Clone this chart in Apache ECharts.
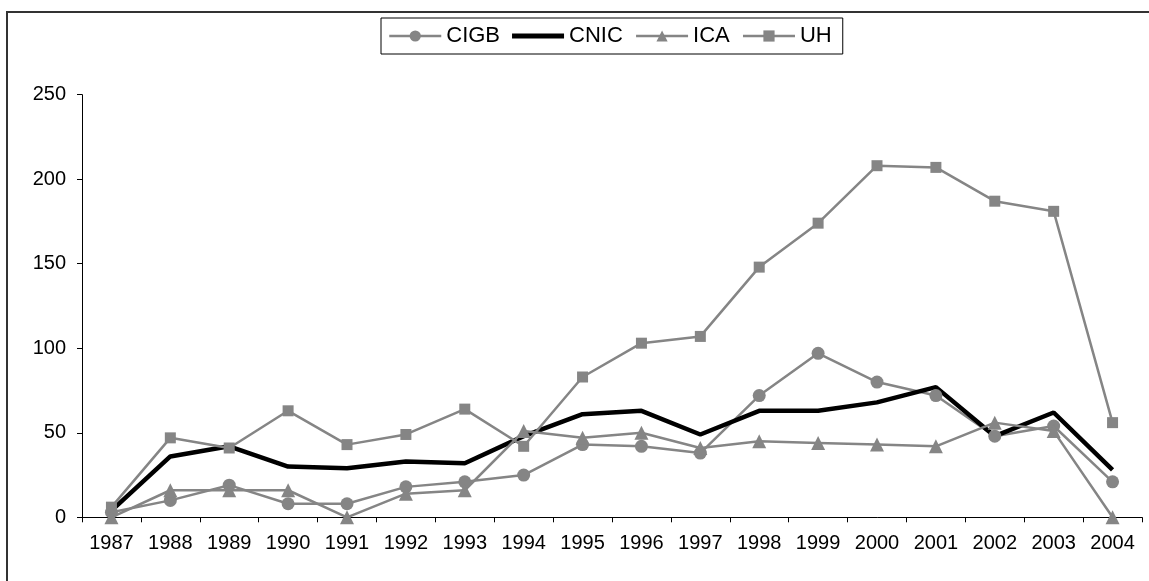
<!DOCTYPE html>
<html>
<head>
<meta charset="utf-8">
<script src="https://cdn.jsdelivr.net/npm/echarts@6/dist/echarts.min.js"></script>
<style>
  html, body { margin: 0; padding: 0; background: #fff; }
  #frame { position: absolute; left: 6px; top: 11px; width: 1160px; height: 600px; border-left: 2px solid #333; border-top: 2px solid #333; box-sizing: border-box; }
  #main { position: absolute; left: 0; top: 0; width: 1149px; height: 581px; }
</style>
</head>
<body>
<div id="frame"></div>
<div id="main"></div>
<script>
  var years = ['1987', '1988', '1989', '1990', '1991', '1992', '1993', '1994', '1995',
    '1996', '1997', '1998', '1999', '2000', '2001', '2002', '2003', '2004']
  var cigb = [3, 10, 19, 8, 8, 18, 21, 25, 43, 42, 38, 72, 97, 80, 72, 48, 54, 21]
  var cnic = [4, 36, 42, 30, 29, 33, 32, 48, 61, 63, 49, 63, 63, 68, 77, 48, 62, 28]
  var ica = [0, 16, 16, 16, 0, 14, 16, 51, 47, 50, 41, 45, 44, 43, 42, 56, 51, 0]
  var uh = [6, 47, 41, 63, 43, 49, 64, 42, 83, 103, 107, 148, 174, 208, 207, 187, 181, 56]
  var yTicks = [0, 50, 100, 150, 200, 250]

  var grey = '#858585'
  var font = 'Arial, "Liberation Sans", sans-serif'

  // grey series with markers
  function greySeries(name, data, symbol, size) {
    return {
      name: name,
      type: 'line',
      data: data,
      symbol: symbol,
      symbolSize: size,
      showAllSymbol: true,
      lineStyle: { color: grey, width: 2.5 },
      itemStyle: { color: grey, borderWidth: 0 },
      emphasis: { disabled: true },
      animation: false
    }
  }

  var myChart = echarts.init(document.getElementById('main'))
  var option = {
    backgroundColor: 'transparent',
    textStyle: { fontFamily: font },
    legend: {
      left: 381,
      top: 18,
      padding: [7, 11, 7, 7],
      itemWidth: 52,
      itemHeight: 14,
      itemGap: 12,
      borderColor: '#000',
      borderWidth: 1,
      textStyle: { fontFamily: font, fontSize: 22, color: '#000', lineHeight: 22 },
      data: [
        { name: 'CIGB', lineStyle: { width: 2.5 } },
        { name: 'CNIC', icon: 'path://M0,0h52v5h-52z', itemStyle: { color: '#000' } },
        { name: 'ICA', lineStyle: { width: 2.5 } },
        { name: 'UH', lineStyle: { width: 2.5 } }
      ]
    },
    grid: {
      left: 82,
      right: 7,
      top: 94.7,
      bottom: 63.7,
      containLabel: false
    },
    xAxis: {
      type: 'category',
      data: years,
      boundaryGap: true,
      axisLine: { lineStyle: { color: '#000', width: 1 } },
      axisTick: { show: true, length: 5, lineStyle: { color: '#000' } },
      axisLabel: { color: '#000', fontSize: 20, fontFamily: font, margin: 16, interval: 0 },
      splitLine: { show: false }
    },
    yAxis: {
      type: 'value',
      min: yTicks[0],
      max: yTicks[yTicks.length - 1],
      interval: 50,
      axisLine: { show: true, lineStyle: { color: '#000', width: 1 } },
      axisTick: { show: true, length: 5, lineStyle: { color: '#000' } },
      axisLabel: { color: '#000', fontSize: 20, fontFamily: font, margin: 16 },
      splitLine: { show: false }
    },
    series: [
      greySeries('CIGB', cigb, 'circle', 13),
      {
        name: 'CNIC',
        type: 'line',
        data: cnic,
        symbol: 'none',
        lineStyle: { color: '#000', width: 4.5, cap: 'butt' },
        itemStyle: { color: '#000' },
        emphasis: { disabled: true },
        animation: false
      },
      greySeries('ICA', ica, 'triangle', 14),
      greySeries('UH', uh, 'rect', 11)
    ]
  }
  myChart.setOption(option)
</script>
</body>
</html>
